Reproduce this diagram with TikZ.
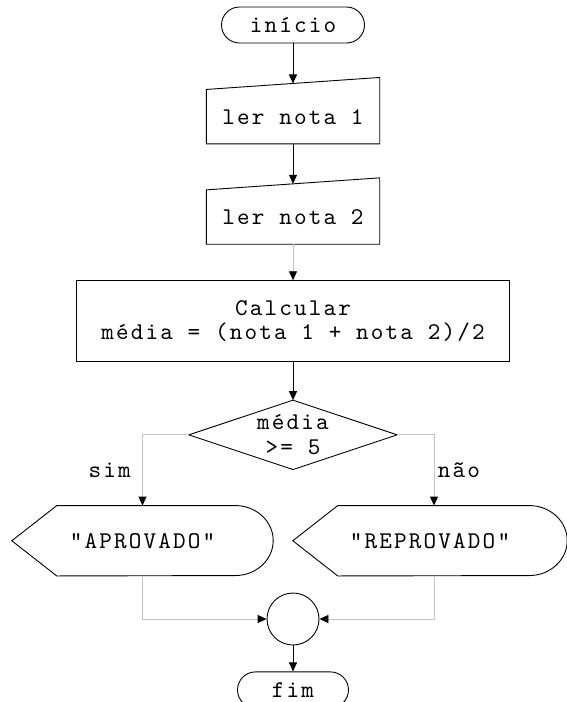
\documentclass[tikz,border=0pt]{standalone}
\usepackage{fontspec}
\usetikzlibrary{positioning,arrows.meta}
\newfontfamily\mono[LetterSpace=9]{lmmono10-regular.otf}
\definecolor{cinza}{RGB}{195,195,195}

\begin{document}
\begin{tikzpicture}[x=1pt,y=1pt,
    font=\mono\fontsize{24}{24.5}\selectfont,
    linha/.style={line width=0.9pt},
    terminal/.style={rectangle,rounded corners=18pt,draw,linha,minimum height=36pt,inner sep=0pt},
    entrada/.style={rectangle,minimum width=173pt,minimum height=54pt,inner sep=0pt},
    processo/.style={rectangle,draw,linha,minimum width=433pt,minimum height=81pt,align=center},
    decisao/.style={rectangle,minimum width=208pt,minimum height=69pt,inner sep=0pt,align=center},
    saida/.style={rectangle,minimum height=70pt,inner sep=0pt},
    juncao/.style={circle,draw,linha,minimum size=52pt,inner sep=0pt},
    seta/.style={linha,-{Triangle[length=9pt,width=8pt]}},
    setacinza/.style={linha,draw=cinza,-{Triangle[length=9pt,width=8pt,color=black]}}]
  \useasboundingbox (0,0) rectangle (566,-702);

  \node[terminal,minimum width=143pt] (inicio) at (293,-25) {início};
  \node[entrada] (nota1) [below=46pt of inicio] {ler nota 1};
  \node[entrada] (nota2) [below=46pt of nota1] {ler nota 2};
  \node[processo] (calc) [below=36pt of nota2] {Calcular\\média = (nota 1 + nota 2)/2};
  \node[decisao] (teste) [below=38pt of calc] {média\\>= 5};
  \node[saida,minimum width=261pt] (aprov) [below=36pt of teste,xshift=-150.5pt] {"APROVADO"};
  \node[saida,minimum width=274pt] (reprov) [below=36pt of teste,xshift=137pt] {"REPROVADO"};
  \node[juncao] (junta) [below=123pt of teste] {};
  \node[terminal,minimum width=111pt] (fim) [below=26pt of junta] {fim};

  % contornos das formas
  \foreach \n in {nota1,nota2}
    \draw[linha] (\n.south west) -- (\n.south east) -- ([yshift=12pt]\n.north east)
      -- (\n.north west) -- cycle;
  \draw[linha] (teste.north) -- (teste.east) -- (teste.south) -- (teste.west) -- cycle;
  \foreach \n in {aprov,reprov}
    \draw[linha] (\n.west) -- ([xshift=45pt]\n.north west) -- ([xshift=-38pt]\n.north east)
      arc[start angle=90,end angle=-90,x radius=38pt,y radius=35pt]
      -- ([xshift=45pt]\n.south west) -- cycle;

  % ligacoes
  \draw[seta] (inicio) -- ([yshift=6pt]nota1.north);
  \draw[seta] (nota1) -- ([yshift=6pt]nota2.north);
  \draw[setacinza] (nota2) -- (calc);
  \draw[seta] (calc) -- (teste);
  \draw[setacinza] (teste.west) -| node[pos=0.75,left=8pt] {sim} (aprov.north);
  \draw[setacinza] (teste.east) -| node[pos=0.75,right=0pt] {não} ([xshift=4pt]reprov.north);
  \draw[setacinza] (aprov.south) |- (junta.west);
  \draw[setacinza] ([xshift=4pt]reprov.south) |- (junta.east);
  \draw[seta] (junta) -- (fim);
\end{tikzpicture}
\end{document}
